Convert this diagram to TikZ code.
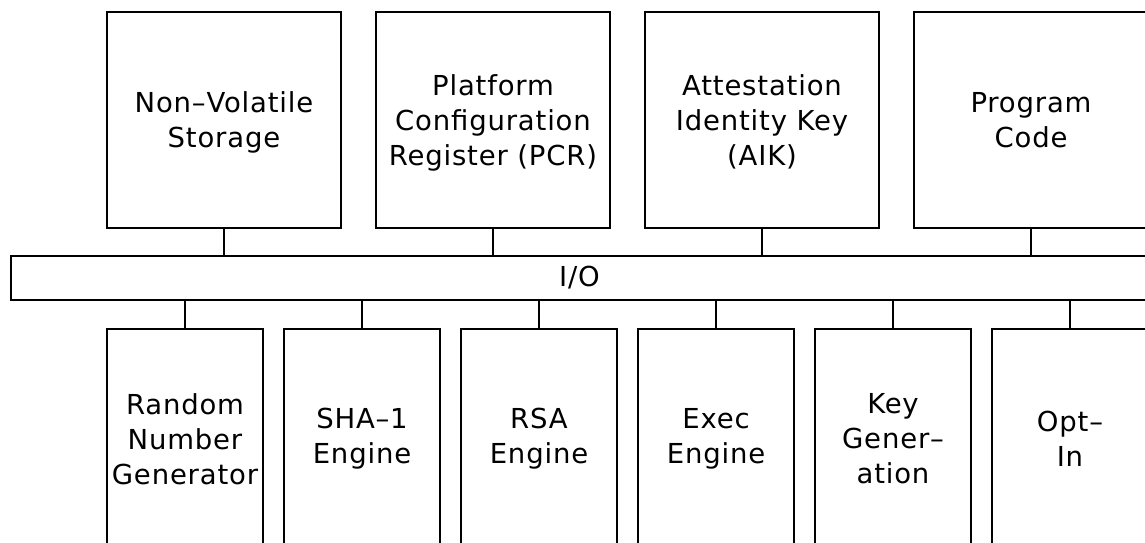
\documentclass[tikz,border=0pt]{standalone}
\usepackage{fontspec}
\newfontfamily\labelfont[LetterSpace=3]{DejaVu Sans}
\begin{document}
\begin{tikzpicture}[x=1pt,y=-1pt,
  unit/.style={draw=black, line width=2pt, rectangle, inner sep=0pt, align=center,
    font={\labelfont\fontsize{27.5}{35}\selectfont}},
  topunit/.style={unit, minimum width=234pt, minimum height=216pt, text depth=0pt},
  lowunit/.style={unit, minimum width=156pt, minimum height=220pt},
  bus/.style={unit, minimum width=1137pt, minimum height=44pt},
  link/.style={line width=2pt}]
\useasboundingbox (0,0) rectangle (1145,542);
\clip (0,0) rectangle (1145,542);

% shared I/O bus
\node[bus] (io) at (579.5,278) {I/O};

% components above the bus
\node[topunit] (nvs) at (224,120)  {Non–Volatile\\Storage};
\node[topunit] (pcr) at (493,120)  {Platform\\Configuration\\Register (PCR)};
\node[topunit] (aik) at (762,120)  {Attestation\\Identity Key\\(AIK)};
\node[topunit] (code) at (1031,120) {Program\\Code};

% components below the bus
\node[lowunit] (rng)  at (185,439)  {Random\\Number\\Generator};
\node[lowunit] (sha)  at (362,439)  {SHA–1\\Engine};
\node[lowunit] (rsa)  at (539,439)  {RSA\\Engine};
\node[lowunit] (exec) at (716,439)  {Exec\\Engine};
\node[lowunit] (keyg) at (893,439)  {Key\\Gener–\\ation};
\node[lowunit] (opt)  at (1070,439) {Opt–\\In};

% bus taps
\foreach \n in {nvs,pcr,aik,code}
  \draw[link] (\n.south) -- (\n.south |- io.north);
\foreach \n in {rng,sha,rsa,exec,keyg,opt}
  \draw[link] (\n.north) -- (\n.north |- io.south);
\end{tikzpicture}
\end{document}
